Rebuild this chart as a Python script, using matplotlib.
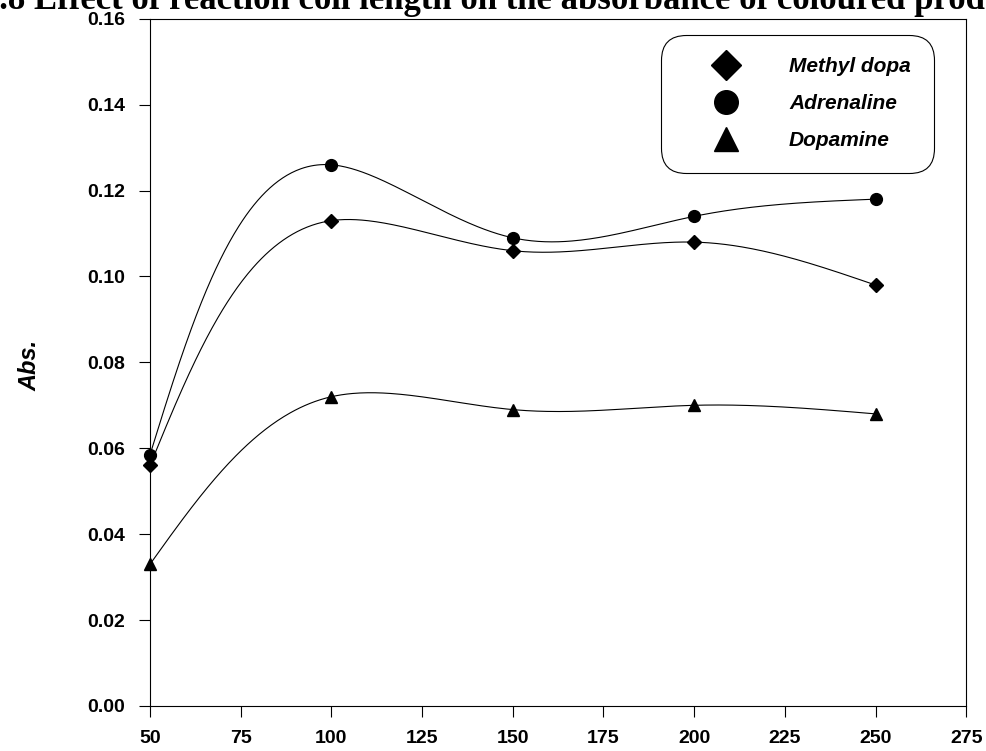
import matplotlib
matplotlib.use('Agg')
import matplotlib.pyplot as plt
import numpy as np

matplotlib.rcParams['font.family'] = 'Liberation Sans'

coil_length = [50, 100, 150, 200, 250]
methyl_dopa = [0.056, 0.113, 0.106, 0.108, 0.098]
adrenaline = [0.0585, 0.126, 0.109, 0.114, 0.118]
dopamine = [0.033, 0.072, 0.069, 0.070, 0.068]

series = [
    ('Methyl dopa', methyl_dopa, 'D', 7.5),
    ('Adrenaline', adrenaline, 'o', 8.5),
    ('Dopamine', dopamine, '^', 8.5),
]


def natural_spline(t, y, ts):
    # natural cubic spline of y(t), evaluated at ts
    t = np.asarray(t, float)
    y = np.asarray(y, float)
    k = len(t)
    h = np.diff(t)
    A = np.zeros((k, k))
    b = np.zeros(k)
    A[0, 0] = A[-1, -1] = 1
    for i in range(1, k - 1):
        A[i, i - 1] = h[i - 1]
        A[i, i] = 2 * (h[i - 1] + h[i])
        A[i, i + 1] = h[i]
        b[i] = 6 * ((y[i + 1] - y[i]) / h[i] - (y[i] - y[i - 1]) / h[i - 1])
    m = np.linalg.solve(A, b)
    idx = np.clip(np.searchsorted(t, ts) - 1, 0, k - 2)
    t0, t1 = t[idx], t[idx + 1]
    hh = t1 - t0
    a0, a1 = t1 - ts, ts - t0
    return (m[idx] * a0**3 + m[idx + 1] * a1**3) / (6 * hh) \
        + (y[idx] / hh - m[idx] * hh / 6) * a0 \
        + (y[idx + 1] / hh - m[idx + 1] * hh / 6) * a1


def smooth_curve(x, y, n=400):
    # parametric spline in screen-like units (chord length), less overshoot
    px = np.asarray(x, float) / 225 * 816
    py = np.asarray(y, float) / 0.16 * 687
    t = np.concatenate([[0], np.cumsum(np.hypot(np.diff(px), np.diff(py)))])
    ts = np.linspace(0, t[-1], n)
    xs = natural_spline(t, px, ts) * 225 / 816
    ys = natural_spline(t, py, ts) * 0.16 / 687
    return xs, ys


fig = plt.figure(figsize=(9.87, 7.51), dpi=100)
ax = fig.add_axes([0.152, 0.060, 0.827, 0.915])

for name, vals, mk, ms in series:
    xs, ys = smooth_curve(coil_length, vals)
    ax.plot(xs, ys, color='black', linewidth=0.8)
    ax.plot(coil_length, vals, linestyle='none', marker=mk, markersize=ms,
            color='black', label=name, clip_on=False, zorder=3)

ax.set_xlim(50, 275)
ax.set_ylim(0, 0.16)
ax.set_xticks(np.arange(50, 276, 25))
ax.set_yticks(np.arange(0, 0.161, 0.02))
ax.set_yticklabels([f'{v:.2f}' for v in np.arange(0, 0.161, 0.02)])
ax.tick_params(axis='both', direction='out', length=8, width=0.8)
ax.tick_params(axis='x', pad=9, labelsize=14)
ax.tick_params(axis='y', pad=10, labelsize=14)
for lbl in ax.get_xticklabels() + ax.get_yticklabels():
    lbl.set_fontweight('bold')
for sp in ax.spines.values():
    sp.set_linewidth(0.8)

ax.set_ylabel('Abs.', fontsize=17, fontweight='bold', style='italic')
ax.yaxis.set_label_coords(-0.133, 0.496)

leg = ax.legend(loc='upper right', bbox_to_anchor=(0.96, 0.977), borderaxespad=0,
                markerscale=2.0, frameon=True, fancybox=True, edgecolor='black',
                framealpha=1, borderpad=1.1, labelspacing=0.85, handletextpad=1.03,
                handlelength=4.0, prop={'weight': 'bold', 'style': 'italic', 'size': 15})
leg.get_frame().set_linewidth(0.8)
leg.get_frame().set_boxstyle('round', pad=0, rounding_size=1.2)

fig.text(-0.05, 0.988, 'Fig.8 Effect of reaction coil length on the absorbance of coloured product',
         fontsize=25, fontweight='bold', family='Liberation Serif', ha='left', va='baseline')

fig.savefig('out.png', dpi=100)
